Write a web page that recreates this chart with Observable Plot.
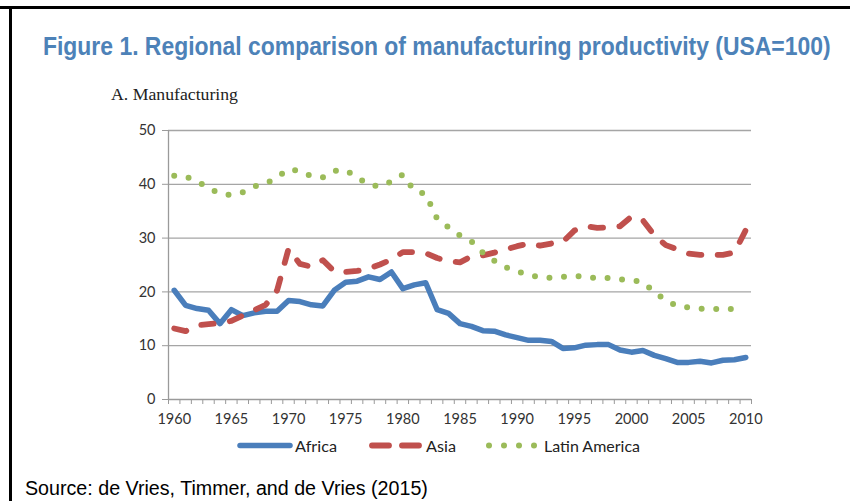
<!DOCTYPE html>
<html><head><meta charset="utf-8">
<script src="https://cdn.jsdelivr.net/npm/d3@7"></script>
<script src="https://cdn.jsdelivr.net/npm/@observablehq/plot@0.6"></script>
<style>
html,body{margin:0;padding:0;background:#fff;}
#page{position:relative;width:850px;height:501px;overflow:hidden;background:#fff;}
#overlay{position:absolute;left:0;top:0;}
#chart{position:absolute;left:0;top:110px;}
</style></head>
<body><div id="page"><svg id="overlay" width="850" height="501"></svg><div id="chart"></div></div>
<script>
const title = "Figure 1. Regional comparison of manufacturing productivity (USA=100)";
const panelLabel = "A. Manufacturing";
const source = "Source: de Vries, Timmer, and de Vries (2015)";
const seriesNames = ["Africa", "Asia", "Latin America"];
const colors = ["#4a7ebb", "#c0504d", "#9bbb59"];

const years = [1960,1961,1962,1963,1964,1965,1966,1967,1968,1969,
  1970,1971,1972,1973,1974,1975,1976,1977,1978,1979,
  1980,1981,1982,1983,1984,1985,1986,1987,1988,1989,
  1990,1991,1992,1993,1994,1995,1996,1997,1998,1999,
  2000,2001,2002,2003,2004,2005,2006,2007,2008,2009,2010];

const africa = [20.3,17.5,16.9,16.6,14.1,16.7,15.6,16.1,16.4,16.4,
  18.4,18.2,17.6,17.4,20.3,21.8,22.0,22.8,22.3,23.7,
  20.6,21.3,21.7,16.7,16.0,14.1,13.6,12.8,12.7,12.0,
  11.5,11.0,11.0,10.8,9.5,9.6,10.1,10.2,10.2,9.2,
  8.8,9.1,8.2,7.6,6.9,6.9,7.1,6.8,7.3,7.4,7.8];

const asia = [13.2,12.7,13.8,14.0,14.2,14.6,15.6,16.6,17.6,20.3,
  28.0,25.2,24.7,25.9,23.8,23.7,23.9,24.3,25.1,26.0,
  27.4,27.4,27.2,26.3,25.7,25.5,26.6,26.8,27.3,27.9,
  28.5,29.0,28.6,29.0,29.3,31.4,32.2,31.9,32.0,32.2,
  34.0,33.3,30.5,28.7,27.9,27.1,26.9,26.9,26.9,27.3,31.5];

const latinAmerica = [41.6,41.4,40.6,39.3,38.3,38.0,38.5,39.6,40.1,41.3,
  42.8,42.5,41.5,41.3,42.5,42.6,41.3,39.9,39.6,40.5,
  41.8,38.8,38.2,33.6,32.0,30.5,29.4,27.3,25.8,24.6,
  23.8,23.2,22.7,22.6,22.8,22.9,22.9,22.5,22.6,22.3,
  22.2,21.8,20.0,18.4,17.4,17.1,16.9,16.8,16.9,16.8];

const yTicks = [0,10,20,30,40,50];
const xLabelYears = [1960,1965,1970,1975,1980,1985,1990,1995,2000,2005,2010];

const toRows = vals => vals.map((v, i) => ({year: years[i], value: v}));
const catEdges = years.map(y => y - 0.5).concat([years[years.length - 1] + 0.5]);

const chart = Plot.plot({
  width: 850, height: 320,
  marginLeft: 168, marginRight: 99, marginTop: 20, marginBottom: 31,
  x: {domain: [catEdges[0], catEdges[catEdges.length - 1]], label: null},
  y: {domain: [0, 50], label: null},
  style: {fontFamily: "Lato, 'Open Sans', sans-serif", fontSize: "14.5px", color: "#333", background: "transparent"},
  marks: [
    Plot.ruleY(yTicks.slice(1), {stroke: "#a5a5a5", strokeWidth: 1.3}),
    Plot.ruleX([catEdges[0]], {stroke: "#9a9a9a", strokeWidth: 1.3}),
    Plot.ruleY([0], {stroke: "#9a9a9a", strokeWidth: 1.3}),
    Plot.axisY(yTicks, {tickSize: 6, tickPadding: 7, stroke: "#9a9a9a", label: null, tickFormat: d => String(d)}),
    Plot.axisX(catEdges, {tickSize: 5, tickFormat: () => "", stroke: "#9a9a9a", label: null}),
    Plot.axisX(xLabelYears, {tickSize: 0, tickPadding: 14, tickFormat: d => String(d), label: null}),
    Plot.line(toRows(africa), {x: "year", y: "value", stroke: colors[0], strokeWidth: 5.5,
      strokeLinejoin: "round", strokeLinecap: "round"}),
    Plot.line(toRows(asia), {x: "year", y: "value", stroke: colors[1], strokeWidth: 5.8,
      strokeLinejoin: "round", strokeLinecap: "round", strokeDasharray: "12.5,16.3"}),
    Plot.line(toRows(latinAmerica), {x: "year", y: "value", stroke: colors[2], strokeWidth: 6,
      strokeLinejoin: "round", strokeLinecap: "round", strokeDasharray: "0,14.6"})
  ]
});
document.getElementById("chart").appendChild(chart);

// Frame, titles, legend, source
const ov = d3.select("#overlay");
ov.append("rect").attr("x", 0).attr("y", 6).attr("width", 850).attr("height", 3).attr("fill", "#000");
ov.append("rect").attr("x", 9).attr("y", 6).attr("width", 3).attr("height", 495).attr("fill", "#000");

// text placed at (x, baseline y), horizontally scaled to a target width
function fitText(parent, str, x, y, width, attrs) {
  const t = parent.append("text").attr("x", 0).attr("y", 0).text(str);
  Object.entries(attrs).forEach(([k, v]) => t.attr(k, v));
  const natural = t.node().getComputedTextLength() || width;
  t.attr("transform", `translate(${x},${y}) scale(${width / natural},1)`);
  return t;
}

fitText(ov, title, 43, 54.5, 788, {"font-family": "'Liberation Sans', Arial, sans-serif",
  "font-weight": "bold", "font-size": 26.5, "fill": "#4d82b8"});

fitText(ov, panelLabel, 111, 99.5, 127, {"font-family": "'Liberation Serif', 'DejaVu Serif', serif",
  "font-size": 17.5, "fill": "#222"});

const lg = ov.append("g");
const ly = 445.5;
lg.append("line").attr("x1", 240).attr("x2", 290).attr("y1", ly).attr("y2", ly)
  .attr("stroke", colors[0]).attr("stroke-width", 5.5).attr("stroke-linecap", "round");
[[372, 389], [402, 419]].forEach(([a, b]) =>
  lg.append("line").attr("x1", a).attr("x2", b).attr("y1", ly).attr("y2", ly)
    .attr("stroke", colors[1]).attr("stroke-width", 5.8).attr("stroke-linecap", "round"));
[489, 504, 519, 534].forEach(cx =>
  lg.append("circle").attr("cx", cx).attr("cy", ly).attr("r", 3).attr("fill", colors[2]));
const legendPos = [[295, 42], [426, 30], [544, 96]];
seriesNames.forEach((name, i) =>
  fitText(lg, name, legendPos[i][0], 451.5, legendPos[i][1],
    {"font-family": "Lato, 'Open Sans', sans-serif", "font-size": 15, "fill": "#222"}));

fitText(ov, source, 25, 495, 403, {"font-family": "'Liberation Sans', Arial, sans-serif",
  "font-size": 19.5, "fill": "#000"});
</script>
</body></html>
